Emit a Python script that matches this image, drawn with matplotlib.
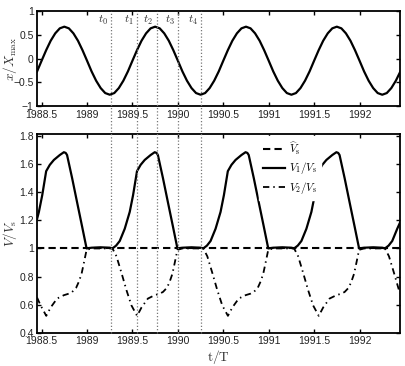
import numpy as np
import matplotlib
matplotlib.use('Agg')
import matplotlib.pyplot as plt
from matplotlib.lines import Line2D
from matplotlib.ticker import FuncFormatter
import matplotlib.transforms as mtransforms

plt.rcParams['font.family'] = ['Liberation Sans Narrow', 'Liberation Sans', 'DejaVu Sans']
plt.rcParams['mathtext.fontset'] = 'cm'
plt.rcParams['axes.linewidth'] = 1.3

# top panel: displacement x/Xmax, sampled every 0.05 T from 1988.45
t_x = np.round(np.arange(1988.45, 1992.451, 0.05), 2)
x_norm = [
    -0.27, -0.045, 0.176, 0.375, 0.53, 0.635, 0.67, 0.635, 0.53, 0.375, 0.176,
    -0.045, -0.27, -0.465, -0.62, -0.725, -0.76, -0.725, -0.62, -0.465, -0.27,
    -0.045, 0.176, 0.375, 0.53, 0.635, 0.67, 0.635, 0.53, 0.375, 0.176,
    -0.045, -0.27, -0.465, -0.62, -0.725, -0.76, -0.725, -0.62, -0.465, -0.27,
    -0.045, 0.176, 0.375, 0.53, 0.635, 0.67, 0.635, 0.53, 0.375, 0.176,
    -0.045, -0.27, -0.465, -0.62, -0.725, -0.76, -0.725, -0.62, -0.465, -0.27,
    -0.045, 0.176, 0.375, 0.53, 0.635, 0.67, 0.635, 0.53, 0.375, 0.176,
    -0.045, -0.27, -0.465, -0.62, -0.725, -0.76, -0.725, -0.62, -0.465, -0.27,
]

# bottom panel: V1/Vs
t_v1 = [
    1988.45, 1988.47, 1988.507, 1988.55, 1988.59, 1988.635, 1988.70, 1988.745, 1988.765, 1988.78,
    1988.836, 1988.89, 1988.946, 1988.995,
    1989.05, 1989.15, 1989.25, 1989.28, 1989.32, 1989.36, 1989.415, 1989.47, 1989.507, 1989.55,
    1989.59, 1989.635, 1989.70, 1989.745, 1989.765, 1989.78, 1989.836, 1989.89, 1989.946, 1989.995,
    1990.05, 1990.15, 1990.25, 1990.28, 1990.32, 1990.36, 1990.415, 1990.47, 1990.507, 1990.55,
    1990.59, 1990.635, 1990.70, 1990.745, 1990.765, 1990.78, 1990.836, 1990.89, 1990.946, 1990.995,
    1991.05, 1991.15, 1991.25, 1991.28, 1991.32, 1991.36, 1991.415, 1991.47, 1991.507, 1991.55,
    1991.59, 1991.635, 1991.70, 1991.745, 1991.765, 1991.78, 1991.836, 1991.89, 1991.946, 1991.995,
    1992.05, 1992.15, 1992.25, 1992.28, 1992.32, 1992.36, 1992.415, 1992.45,
]
v1 = [
    1.21, 1.26, 1.38, 1.55, 1.595, 1.63, 1.665, 1.685, 1.68, 1.665,
    1.50, 1.33, 1.155, 1.0,
    1.005, 1.008, 1.005, 1.0, 1.02, 1.053, 1.14, 1.26, 1.38, 1.55,
    1.595, 1.63, 1.665, 1.685, 1.68, 1.665, 1.50, 1.33, 1.155, 1.0,
    1.005, 1.008, 1.005, 1.0, 1.02, 1.053, 1.14, 1.26, 1.38, 1.55,
    1.595, 1.63, 1.665, 1.685, 1.68, 1.665, 1.50, 1.33, 1.155, 1.0,
    1.005, 1.008, 1.005, 1.0, 1.02, 1.053, 1.14, 1.26, 1.38, 1.55,
    1.595, 1.63, 1.665, 1.685, 1.68, 1.665, 1.50, 1.33, 1.155, 1.0,
    1.005, 1.008, 1.005, 1.0, 1.02, 1.053, 1.14, 1.19,
]

# bottom panel: V2/Vs
t_v2 = [
    1988.45, 1988.489, 1988.551, 1988.60, 1988.67, 1988.745, 1988.80, 1988.836, 1988.88, 1988.91,
    1988.94, 1988.965, 1988.995,
    1989.05, 1989.15, 1989.25, 1989.28, 1989.324, 1989.38, 1989.434, 1989.489, 1989.551, 1989.60,
    1989.67, 1989.745, 1989.80, 1989.836, 1989.88, 1989.91, 1989.94, 1989.965, 1989.995,
    1990.05, 1990.15, 1990.25, 1990.28, 1990.324, 1990.38, 1990.434, 1990.489, 1990.551, 1990.60,
    1990.67, 1990.745, 1990.80, 1990.836, 1990.88, 1990.91, 1990.94, 1990.965, 1990.995,
    1991.05, 1991.15, 1991.25, 1991.28, 1991.324, 1991.38, 1991.434, 1991.489, 1991.551, 1991.60,
    1991.67, 1991.745, 1991.80, 1991.836, 1991.88, 1991.91, 1991.94, 1991.965, 1991.995,
    1992.05, 1992.15, 1992.25, 1992.28, 1992.324, 1992.38, 1992.434, 1992.45,
]
v2 = [
    0.65, 0.594, 0.52, 0.58, 0.643, 0.667, 0.678, 0.69, 0.72, 0.763,
    0.82, 0.896, 0.99,
    1.0, 1.0, 1.0, 1.0, 0.944, 0.824, 0.703, 0.594, 0.52, 0.58,
    0.643, 0.667, 0.678, 0.69, 0.72, 0.763, 0.82, 0.896, 0.99,
    1.0, 1.0, 1.0, 1.0, 0.944, 0.824, 0.703, 0.594, 0.52, 0.58,
    0.643, 0.667, 0.678, 0.69, 0.72, 0.763, 0.82, 0.896, 0.99,
    1.0, 1.0, 1.0, 1.0, 0.944, 0.824, 0.703, 0.594, 0.52, 0.58,
    0.643, 0.667, 0.678, 0.69, 0.72, 0.763, 0.82, 0.896, 0.99,
    1.0, 1.0, 1.0, 1.0, 0.944, 0.824, 0.703, 0.68,
]

vs_hat = 1.0
t_marks = [1989.265, 1989.55, 1989.765, 1990.0, 1990.258]
t_names = ['$t_0$', '$t_1$', '$t_2$', '$t_3$', '$t_4$']

xticks = [1988.5, 1989, 1989.5, 1990, 1990.5, 1991, 1991.5, 1992]
xlim = (1988.452, 1992.447)


def fmt(v, pos):
    return ('%g' % v).replace('-', '\u2212')


fig = plt.figure(figsize=(4.05, 3.66), dpi=100)
ax1 = fig.add_axes([0.092, 0.710, 0.896, 0.260])
ax2 = fig.add_axes([0.092, 0.091, 0.896, 0.543])

ax1.plot(t_x, x_norm, color='black', lw=1.6)
ax1.set_xlim(xlim)
ax1.set_ylim(-1, 1)
ax1.set_yticks([-1, -0.5, 0, 0.5, 1])
ax1.set_ylabel(r'$x/X_{\max}$', fontsize=9.5, color='#333333')
ax1.yaxis.set_label_coords(-0.05, 0.5)
for tm, name in zip(t_marks, t_names):
    ax1.text(tm - 0.09, 0.80, name, ha='center', va='center', fontsize=8.5, color='#333333')

ax2.plot(t_v2, v2, color='black', lw=1.3, dashes=[3.5, 2.2, 0.8, 2.2], label=r'$V_2/V_{\rm s}$')
ax2.axhline(vs_hat, color='black', lw=1.5, dashes=[3.5, 2.0], label=r'$\widehat{V}_{\rm s}$')
ax2.plot(t_v1, v1, color='black', lw=1.6, label=r'$V_1/V_{\rm s}$')
ax2.set_xlim(xlim)
ax2.set_ylim(0.4, 1.815)
ax2.set_yticks([0.4, 0.6, 0.8, 1.0, 1.2, 1.4, 1.6, 1.8])
ax2.set_ylabel(r'$V/V_{\rm s}$', fontsize=9.5, color='#333333')
ax2.yaxis.set_label_coords(-0.05, 0.5)
ax2.set_xlabel(r'$\mathrm{t/T}$', fontsize=9.5, color='#333333', labelpad=1)

h, l = ax2.get_legend_handles_labels()
leg = ax2.legend([h[1], h[2], h[0]], [l[1], l[2], l[0]], loc='upper left',
                 bbox_to_anchor=(0.61, 0.99), borderaxespad=0, frameon=True,
                 fontsize=8, handlelength=2.0, handletextpad=0.3, labelspacing=0.3,
                 borderpad=0.4, fancybox=False)
leg.get_frame().set_edgecolor('white')
leg.get_frame().set_facecolor('white')
leg.get_frame().set_alpha(1.0)

for ax in (ax1, ax2):
    ax.set_xticks(xticks)
    ax.xaxis.set_major_formatter(FuncFormatter(fmt))
    ax.yaxis.set_major_formatter(FuncFormatter(fmt))
    ax.tick_params(direction='in', top=True, right=True, length=3, width=1.0,
                   labelsize=7.5, pad=2.5, colors='black', labelcolor='#222222')

# dotted time markers through both panels
trans = mtransforms.blended_transform_factory(ax2.transData, fig.transFigure)
for tm in t_marks:
    fig.add_artist(Line2D([tm, tm], [0.091, 0.970], transform=trans, color='#777777',
                          lw=0.9, dashes=[1, 1.6], zorder=0.5))

fig.savefig('out.png', dpi=100)
